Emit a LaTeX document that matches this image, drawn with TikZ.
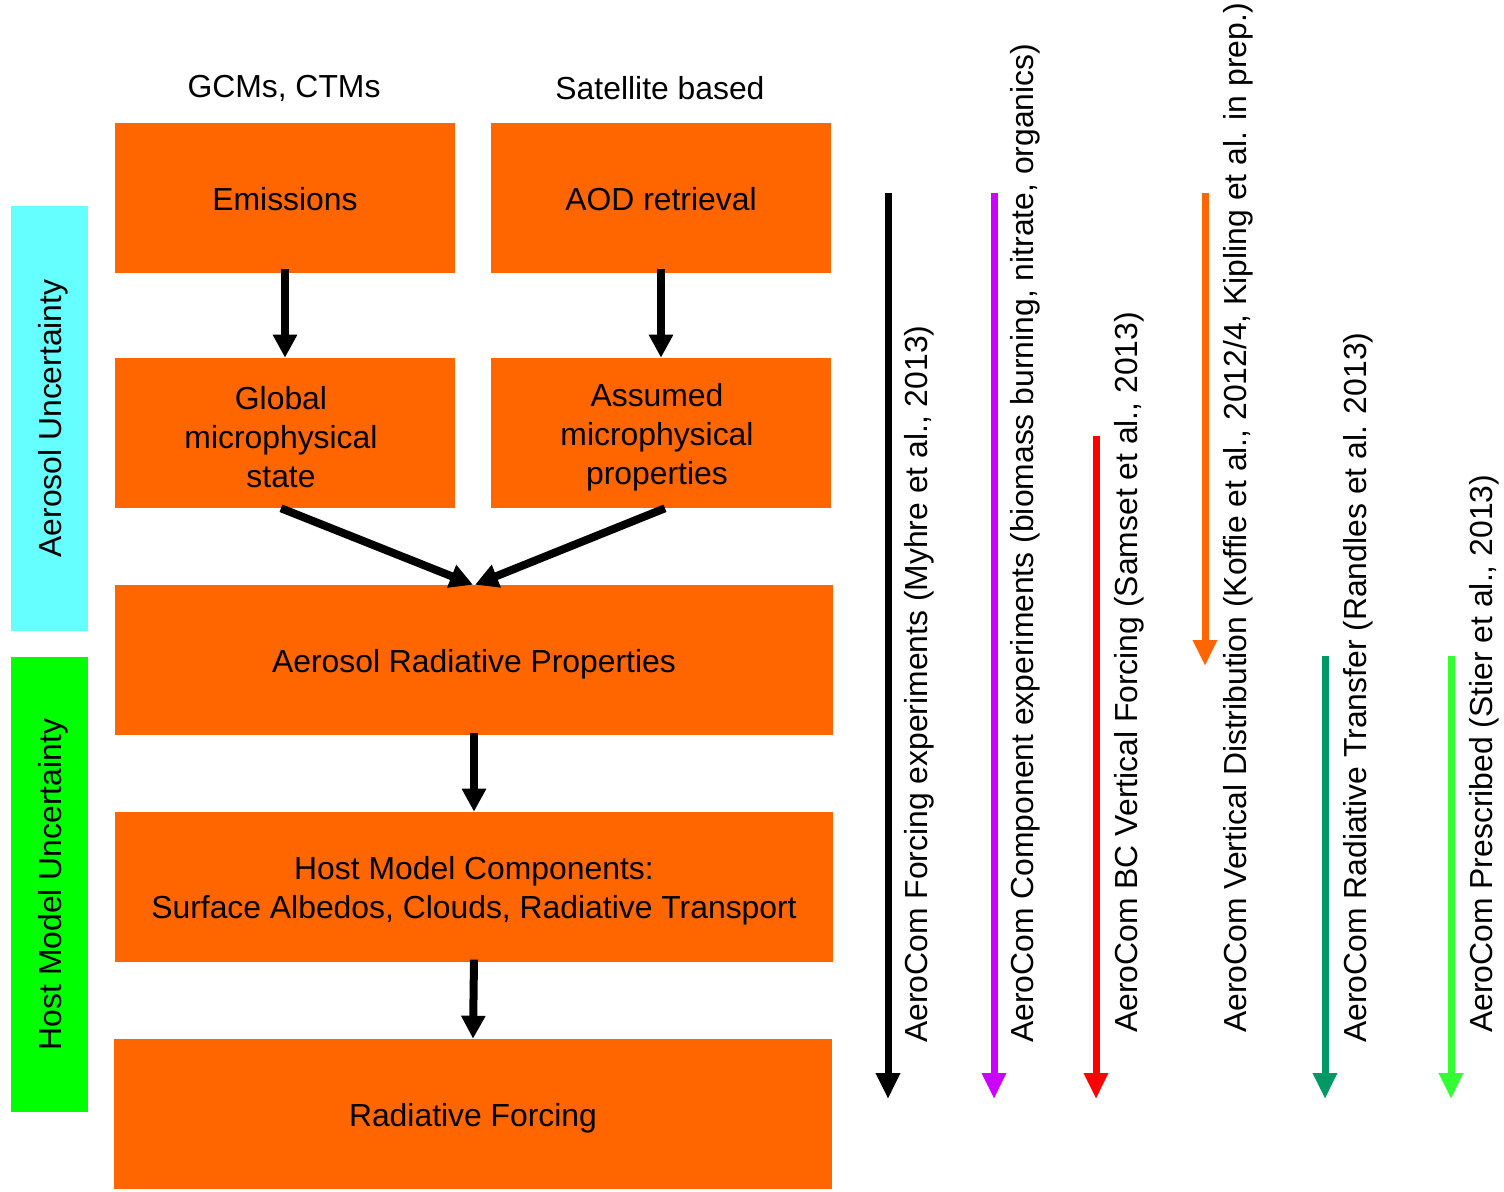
\documentclass[tikz,border=0pt]{standalone}
\usepackage{fontspec}
\setmainfont{Liberation Sans}
\usetikzlibrary{arrows.meta}
\definecolor{boxorange}{HTML}{FF6600}
\definecolor{barcyan}{HTML}{66FFFF}
\definecolor{bargreen}{HTML}{00FF00}
\definecolor{apurple}{HTML}{CC00FF}
\definecolor{ared}{HTML}{FF0000}
\definecolor{adkgreen}{HTML}{009966}
\definecolor{agreen}{HTML}{33FF33}
\tikzset{
  every node/.style={font=\fontsize{23.9pt}{29.25pt}\selectfont},
  obox/.style={fill=boxorange, inner sep=0pt, minimum height=112.5pt},
  halfbox/.style={obox, minimum width=255pt},
  fullbox/.style={obox, minimum width=538.5pt},
  boxtext/.style={align=center, inner sep=0pt, yshift=-3pt},
  sidebar/.style={inner sep=0pt, minimum width=57.75pt},
  sidetext/.style={rotate=90, inner sep=0pt, yshift=-3pt},
  flowarrow/.style={line width=6pt, -{Triangle[width=17.25pt,length=17.25pt]}},
  exparrow/.style={line width=5.25pt, -{Triangle[width=17.25pt,length=19.5pt]}},
  explabel/.style={rotate=90, anchor=base west, inner sep=0pt},
}
\begin{document}
\begin{tikzpicture}[x=0.75pt, y=-0.75pt]
\useasboundingbox (0,0) rectangle (1504,1192);
% headers
\node (h1) at (284,88) {GCMs, CTMs};
\node (h2) at (660,88) {Satellite based};
% boxes
\node[halfbox, label={[boxtext, yshift=2pt]center:Emissions}] (emis) at (285,198) {};
\node[halfbox, label={[boxtext, yshift=2pt]center:AOD retrieval}] (aod) at (661,198) {};
\node[halfbox, label={[boxtext, xshift=-3pt]center:Global\\microphysical\\state}] (glob) at (285,433) {};
\node[halfbox, label={[boxtext, xshift=-3pt]center:Assumed\\microphysical\\properties}] (assu) at (661,433) {};
\node[fullbox, label={[boxtext]center:Aerosol Radiative Properties}] (arp) at (474,660) {};
\node[fullbox, label={[boxtext]center:Host Model Components:\\Surface Albedos, Clouds, Radiative Transport}] (host) at (474,887) {};
\node[fullbox, label={[boxtext]center:Radiative Forcing}] (rf) at (473,1114) {};
% side bars
\node[sidebar, fill=barcyan, minimum height=318.75pt, label={[sidetext]center:Aerosol Uncertainty}] (aeu) at (49.5,418.5) {};
\node[sidebar, fill=bargreen, minimum height=341.25pt, label={[sidetext]center:Host Model Uncertainty}] (hmu) at (49.5,884.5) {};
% flow arrows
\draw[flowarrow] ([yshift=3pt]emis.south) -- (glob.north);
\draw[flowarrow] ([yshift=3pt]aod.south) -- (assu.north);
\draw[flowarrow] ([xshift=-3pt]glob.south) -- ([xshift=-0.75pt]arp.north);
\draw[flowarrow] ([xshift=3pt]assu.south) -- ([xshift=0.75pt]arp.north);
\draw[flowarrow] ([yshift=2pt]arp.south) -- (host.north);
\draw[flowarrow] ([yshift=2pt]host.south) -- (rf.north);
% experiment arrows
\coordinate (a1s) at (888,193); \coordinate (a1e) at (888,1099);
\coordinate (a2s) at (994,193); \coordinate (a2e) at (994,1099);
\coordinate (a3s) at (1096,436); \coordinate (a3e) at (1096,1099);
\coordinate (a4s) at (1205,193); \coordinate (a4e) at (1205,666);
\coordinate (a5s) at (1325,656); \coordinate (a5e) at (1325,1099);
\coordinate (a6s) at (1451,656); \coordinate (a6e) at (1451,1099);
\draw[exparrow, black] (a1s) -- (a1e);
\draw[exparrow, apurple] (a2s) -- (a2e);
\draw[exparrow, ared] (a3s) -- (a3e);
\draw[exparrow, boxorange] (a4s) -- (a4e);
\draw[exparrow, adkgreen] (a5s) -- (a5e);
\draw[exparrow, agreen] (a6s) -- (a6e);
% experiment labels
\node[explabel] (l1) at (927,1043) {AeroCom Forcing experiments (Myhre et al., 2013)};
\node[explabel] (l2) at (1033,1043) {AeroCom Component experiments (biomass burning, nitrate, organics)};
\node[explabel] (l3) at (1137,1033) {AeroCom BC Vertical Forcing (Samset et al., 2013)};
\node[explabel] (l4) at (1246,1033) {AeroCom Vertical Distribution (Koffie et al., 2012/4, Kipling et al. in prep.)};
\node[explabel] (l5) at (1366,1043) {AeroCom Radiative Transfer (Randles et al. 2013)};
\node[explabel] (l6) at (1492,1033) {AeroCom Prescribed (Stier et al., 2013)};
\end{tikzpicture}
\end{document}
